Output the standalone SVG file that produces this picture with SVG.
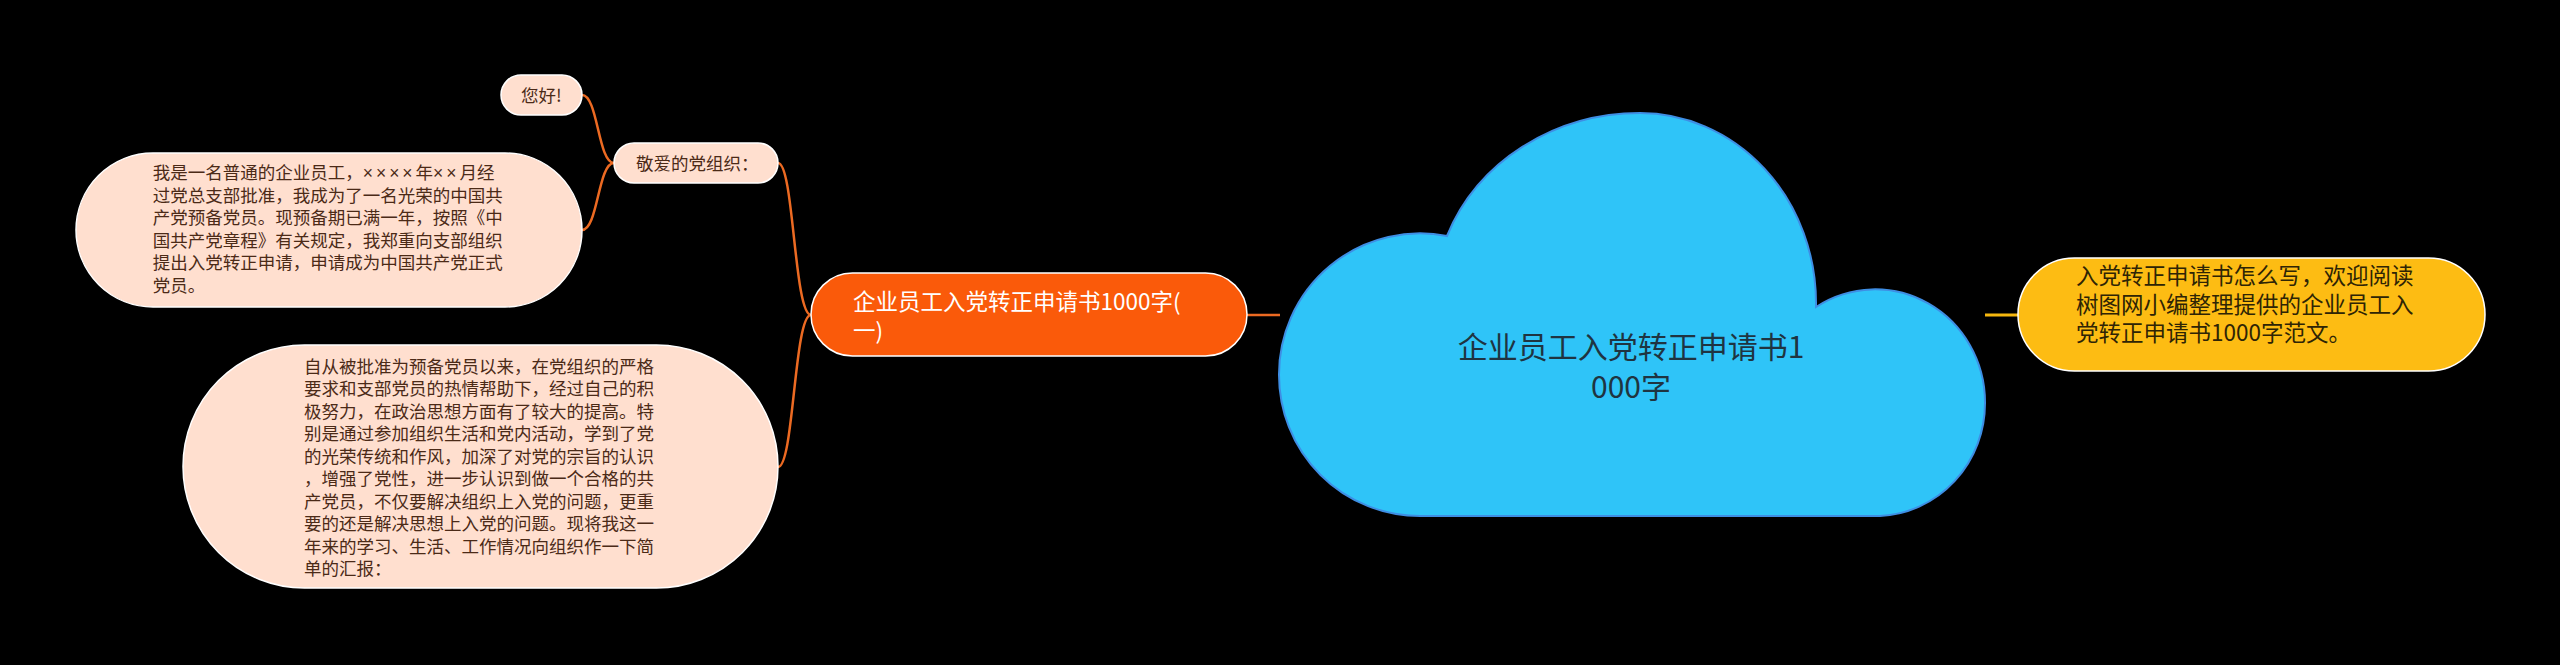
<svg xmlns="http://www.w3.org/2000/svg" width="2560" height="665" viewBox="0 0 2560 665">
<style>
text{font-family:"Noto Sans CJK SC","Noto Sans",sans-serif}
.leaf{fill:#FFDFCF;stroke:#FFFFFF;stroke-width:1.5}
.leaf-t{font-size:17.5px;fill:#4B2A17}
.narrow{font-family:"Liberation Sans","Noto Sans",sans-serif;letter-spacing:3px}
.main{fill:#FA5A0A;stroke:#FFFFFF;stroke-width:1.5}
.main-t{font-size:22.5px;fill:#FFFFFF}
.info{fill:#FDBC13;stroke:#FFFFFF;stroke-width:1.5}
.info-t{font-size:22.5px;fill:#2E2405}
.cloud{fill:#2FC4F8;stroke:#3E8EE4;stroke-width:2}
.cloud-t{font-size:30px;fill:#1F3441;text-anchor:middle}
.link{fill:none;stroke:#EC6A22;stroke-width:2.5}
.link-y{fill:none;stroke:#F5B70E;stroke-width:3}
</style>
<rect x="0" y="0" width="2560" height="665" fill="#000000"/>
<g id="connectors">
<path class="link" d="M582,95 C598,95 598,163 614,163"/>
<path class="link" d="M614,163 C598,163 598,230 582,230"/>
<path class="link" d="M811,315 C794,315 794,163 778,163"/>
<path class="link" d="M811,315 C794,315 794,467 778,467"/>
<path class="link" d="M1247,315 L1280,315" stroke-width="3"/>
<path class="link-y" d="M1985,315 L2018,315"/>
</g>
<g id="node-root">
<path class="cloud" d="M1420,516 A141,141 0 0 1 1279,375 A141,141 0 0 1 1447,236 A206,190 0 0 1 1640,113 A176,190 0 0 1 1816,303 L1816,307 A110,113 0 0 1 1985,403 A110,113 0 0 1 1880,516 Z"/>
<text class="cloud-t" x="1631" y="358">企业员工入党转正申请书1</text>
<text class="cloud-t" x="1631" y="398">000字</text>
</g>
<g id="node-main">
<rect class="main" x="811" y="273" width="436" height="83" rx="41.5"/>
<text class="main-t" x="853" y="309.5">企业员工入党转正申请书1000字(</text>
<text class="main-t" x="853" y="338.5">一)</text>
</g>
<g id="node-info">
<rect class="info" x="2018" y="258" width="467" height="113" rx="56.5"/>
<text class="info-t" x="2076" y="284">入党转正申请书怎么写，欢迎阅读</text>
<text class="info-t" x="2076" y="312.5">树图网小编整理提供的企业员工入</text>
<text class="info-t" x="2076" y="341">党转正申请书1000字范文。</text>
</g>
<g id="node-greeting">
<rect class="leaf" x="614" y="143" width="164" height="40" rx="20"/>
<text class="leaf-t" x="636" y="170">敬爱的党组织：</text>
</g>
<g id="node-hello">
<rect class="leaf" x="501" y="75" width="81" height="40" rx="20"/>
<text class="leaf-t" x="521" y="101.5">您好!</text>
</g>
<g id="node-para1">
<rect class="leaf" x="76" y="153" width="506" height="154" rx="77"/>
<text class="leaf-t" x="152.7" y="179">我是一名普通的企业员工，<tspan class="narrow">××××</tspan>年<tspan class="narrow">××</tspan>月经</text>
<text class="leaf-t" x="152.7" y="201.5">过党总支部批准，我成为了一名光荣的中国共</text>
<text class="leaf-t" x="152.7" y="224">产党预备党员。现预备期已满一年，按照《中</text>
<text class="leaf-t" x="152.7" y="246.5">国共产党章程》有关规定，我郑重向支部组织</text>
<text class="leaf-t" x="152.7" y="269">提出入党转正申请，申请成为中国共产党正式</text>
<text class="leaf-t" x="152.7" y="291.5">党员。</text>
</g>
<g id="node-para2">
<rect class="leaf" x="183" y="345" width="595" height="243" rx="121.5"/>
<text class="leaf-t" x="304" y="372.5">自从被批准为预备党员以来，在党组织的严格</text>
<text class="leaf-t" x="304" y="395">要求和支部党员的热情帮助下，经过自己的积</text>
<text class="leaf-t" x="304" y="417.5">极努力，在政治思想方面有了较大的提高。特</text>
<text class="leaf-t" x="304" y="440">别是通过参加组织生活和党内活动，学到了党</text>
<text class="leaf-t" x="304" y="462.5">的光荣传统和作风，加深了对党的宗旨的认识</text>
<text class="leaf-t" x="304" y="485">，增强了党性，进一步认识到做一个合格的共</text>
<text class="leaf-t" x="304" y="507.5">产党员，不仅要解决组织上入党的问题，更重</text>
<text class="leaf-t" x="304" y="530">要的还是解决思想上入党的问题。现将我这一</text>
<text class="leaf-t" x="304" y="552.5">年来的学习、生活、工作情况向组织作一下简</text>
<text class="leaf-t" x="304" y="575">单的汇报：</text>
</g>
</svg>
